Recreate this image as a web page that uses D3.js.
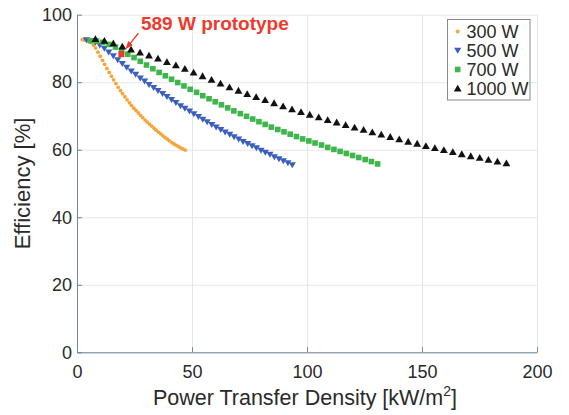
<!DOCTYPE html>
<html>
<head>
<meta charset="utf-8">
<script src="https://cdn.jsdelivr.net/npm/d3@7"></script>
<style>
  html, body { margin: 0; padding: 0; background: #ffffff; }
  svg { display: block; font-family: "Liberation Sans", Arial, Helvetica, sans-serif; }
</style>
</head>
<body>
<svg id="chart" width="569" height="415"></svg>
<script>
// ---------------- data ----------------
const seriesNames = ["300 W", "500 W", "700 W", "1000 W"];

const x300 = [2.3,3.3,4.2,5.2,6.2,7.2,8.1,9.1,10.1,11.1,12.0,13.0,14.0,15.0,15.9,16.9,17.9,18.9,19.8,20.8,21.8,22.8,23.7,24.7,25.7,26.7,27.6,28.6,29.6,30.5,31.5,32.5,33.5,34.4,35.4,36.4,37.4,38.3,39.3,40.3,41.3,42.2,43.2,44.2,45.2,46.1,47.1];
const y300 = [92.6,92.5,92.4,92.2,91.7,91.0,90.1,88.9,87.7,86.5,85.3,84.1,82.9,81.8,80.7,79.6,78.5,77.5,76.6,75.7,74.8,73.9,73.1,72.3,71.6,70.9,70.2,69.5,68.8,68.2,67.6,67.0,66.4,65.8,65.2,64.7,64.1,63.6,63.1,62.6,62.1,61.7,61.3,60.9,60.5,60.2,59.9];

const x500 = [4.1,6.0,8.0,9.9,11.9,13.8,15.8,17.7,19.7,21.6,23.6,25.5,27.5,29.4,31.3,33.3,35.2,37.2,39.1,41.1,43.0,45.0,46.9,48.9,50.8,52.8,54.7,56.6,58.6,60.5,62.5,64.4,66.4,68.3,70.3,72.2,74.2,76.1,78.0,80.0,81.9,83.9,85.8,87.8,89.7,91.7,93.6];
const y500 = [92.5,92.3,91.8,91.0,90.0,88.9,87.8,86.6,85.5,84.4,83.3,82.3,81.2,80.3,79.3,78.4,77.5,76.6,75.7,74.8,73.9,73.0,72.2,71.4,70.6,69.8,69.0,68.2,67.4,66.7,65.9,65.2,64.5,63.8,63.1,62.4,61.8,61.1,60.5,59.8,59.2,58.6,57.9,57.3,56.7,56.1,55.5];

const x700 = [5.8,8.5,11.2,13.9,16.7,19.4,22.1,24.8,27.5,30.2,33.0,35.7,38.4,41.1,43.8,46.5,49.2,52.0,54.7,57.4,60.1,62.8,65.5,68.2,71.0,73.7,76.4,79.1,81.8,84.5,87.3,90.0,92.7,95.4,98.1,100.8,103.5,106.3,109.0,111.7,114.4,117.1,119.8,122.5,125.3,128.0,130.7];
const y700 = [92.3,92.2,91.8,91.2,90.4,89.4,88.3,87.3,86.2,85.1,84.0,82.9,81.9,80.9,79.9,78.9,77.9,77.0,76.0,75.1,74.2,73.3,72.4,71.5,70.7,69.9,69.1,68.3,67.5,66.7,66.0,65.3,64.6,63.9,63.2,62.6,62.0,61.4,60.7,60.1,59.5,58.9,58.3,57.7,57.1,56.5,55.8];

const x1000 = [8.0,11.9,15.8,19.7,23.5,27.4,31.3,35.2,39.1,43.0,46.9,50.7,54.6,58.5,62.4,66.3,70.2,74.0,77.9,81.8,85.7,89.6,93.5,97.4,101.2,105.1,109.0,112.9,116.8,120.7,124.6,128.4,132.3,136.2,140.1,144.0,147.9,151.7,155.6,159.5,163.4,167.3,171.2,175.1,178.9,182.8,186.7];
const y1000 = [92.8,92.3,91.5,90.6,89.7,88.8,87.9,87.0,86.0,85.0,84.0,82.9,81.8,80.7,79.6,78.5,77.5,76.5,75.6,74.7,73.8,72.9,72.0,71.2,70.4,69.6,68.8,68.1,67.3,66.6,65.9,65.2,64.5,63.8,63.1,62.4,61.8,61.1,60.5,59.9,59.3,58.7,58.1,57.6,57.0,56.5,56.0];

const prototypePoint = [19.3, 88.3];
const prototypeLabel = "589 W prototype";

const xTicks = [0, 50, 100, 150, 200];
const yTicks = [0, 20, 40, 60, 80, 100];
const xTitle = "Power Transfer Density [kW/m";
const xTitleSup = "2";
const xTitleEnd = "]";
const yTitle = "Efficiency [%]";

// ---------------- chart ----------------
const svg = d3.select("#chart");
const W = 569, H = 415;
const m = { left: 77, right: 32, top: 14.7, bottom: 62.7 };

const x = d3.scaleLinear().domain([0, 200]).range([m.left, W - m.right]);
const y = d3.scaleLinear().domain([0, 100]).range([H - m.bottom, m.top]);

const axisColor = "#6f8796";
const gridColor = "#e4e7ea";
const textColor = "#2a2a2a";

// grid
const gx = svg.append("g").attr("transform", `translate(0,${y(0)})`)
  .call(d3.axisBottom(x).tickValues(xTicks).tickSize(-(y(0) - y(100))).tickFormat(""));
gx.select(".domain").remove();
gx.selectAll("line").attr("stroke", gridColor).attr("stroke-width", 1);

const gy = svg.append("g").attr("transform", `translate(${x(0)},0)`)
  .call(d3.axisLeft(y).tickValues(yTicks).tickSize(-(x(200) - x(0))).tickFormat(""));
gy.select(".domain").remove();
gy.selectAll("line").attr("stroke", gridColor).attr("stroke-width", 1);

// axes (inward ticks)
const ax = svg.append("g").attr("transform", `translate(0,${y(0)})`)
  .call(d3.axisBottom(x).tickValues(xTicks).tickSizeInner(-5).tickSizeOuter(0).tickPadding(13));
ax.select(".domain").attr("stroke", axisColor);
ax.selectAll("line").attr("stroke", axisColor);
ax.selectAll("text").attr("fill", textColor).attr("font-size", 18)
  .attr("font-family", "'Liberation Sans', Arial, sans-serif");

const ay = svg.append("g").attr("transform", `translate(${x(0)},0)`)
  .call(d3.axisLeft(y).tickValues(yTicks).tickSizeInner(-5).tickSizeOuter(0).tickPadding(5));
ay.select(".domain").attr("stroke", axisColor);
ay.selectAll("line").attr("stroke", axisColor);
ay.selectAll("text").attr("fill", textColor).attr("font-size", 18)
  .attr("font-family", "'Liberation Sans', Arial, sans-serif");

// titles
const xt = svg.append("text")
  .attr("x", (x(0) + x(200)) / 2 - 2)
  .attr("y", 405)
  .attr("text-anchor", "middle")
  .attr("font-size", 21.5)
  .attr("fill", textColor);
xt.append("tspan").text(xTitle);
xt.append("tspan").attr("font-size", 14).attr("dy", -9).text(xTitleSup);
xt.append("tspan").attr("dy", 9).text(xTitleEnd);

svg.append("text")
  .attr("transform", `translate(30,${(y(0) + y(100)) / 2}) rotate(-90)`)
  .attr("text-anchor", "middle")
  .attr("font-size", 22)
  .attr("fill", textColor)
  .text(yTitle);

// markers
const colors = { "300 W": "#f6a53c", "500 W": "#3a5fbf", "700 W": "#3fb64b", "1000 W": "#111111" };

function drawMarker(g, name, cx, cy) {
  if (name === "300 W") {
    g.append("circle").attr("cx", cx).attr("cy", cy).attr("r", 1.9).attr("fill", colors[name]);
  } else if (name === "500 W") {
    g.append("path").attr("d", `M${cx - 3.6},${cy - 2.7}L${cx + 3.6},${cy - 2.7}L${cx},${cy + 3.3}Z`)
      .attr("fill", colors[name]);
  } else if (name === "700 W") {
    g.append("rect").attr("x", cx - 2.8).attr("y", cy - 2.8).attr("width", 5.6).attr("height", 5.6)
      .attr("fill", colors[name]);
  } else {
    g.append("path").attr("d", `M${cx - 3.9},${cy + 3}L${cx + 3.9},${cy + 3}L${cx},${cy - 3.8}Z`)
      .attr("fill", colors[name]);
  }
}

const series = [
  { name: "300 W", xs: x300, ys: y300 },
  { name: "500 W", xs: x500, ys: y500 },
  { name: "700 W", xs: x700, ys: y700 },
  { name: "1000 W", xs: x1000, ys: y1000 }
];

const marks = svg.append("g");
series.forEach(s => {
  const g = marks.append("g");
  s.xs.forEach((xv, i) => drawMarker(g, s.name, x(xv), y(s.ys[i])));
});

// prototype point + annotation
const red = "#ee3a2c";
svg.append("rect")
  .attr("x", x(prototypePoint[0]) - 3).attr("y", y(prototypePoint[1]) - 3)
  .attr("width", 6).attr("height", 6).attr("fill", red);

const defs = svg.append("defs");
defs.append("marker").attr("id", "arr").attr("viewBox", "0 0 10 10")
  .attr("refX", 9).attr("refY", 5).attr("markerWidth", 6).attr("markerHeight", 6)
  .attr("orient", "auto")
  .append("path").attr("d", "M0,1L10,5L0,9Z").attr("fill", red);

svg.append("line")
  .attr("x1", x(26.7)).attr("y1", y(94.5))
  .attr("x2", x(21.4)).attr("y2", y(90.0))
  .attr("stroke", red).attr("stroke-width", 1.3)
  .attr("marker-end", "url(#arr)");

svg.append("text")
  .attr("x", x(27.8)).attr("y", y(95.5))
  .attr("font-size", 19).attr("font-weight", "bold")
  .attr("fill", red)
  .text(prototypeLabel);

// legend
const lg = svg.append("g");
lg.append("rect").attr("x", 447.5).attr("y", 19.5).attr("width", 82.5).attr("height", 80.5)
  .attr("fill", "#ffffff").attr("stroke", "#8a8a8a").attr("stroke-width", 1);
seriesNames.forEach((n, i) => {
  const cy = 31.5 + i * 19;
  drawMarker(lg, n, 457.7, cy);
  lg.append("text").attr("x", 466.5).attr("y", cy).attr("dy", "0.35em")
    .attr("font-size", 18).attr("fill", textColor).text(n);
});
</script>
</body>
</html>
